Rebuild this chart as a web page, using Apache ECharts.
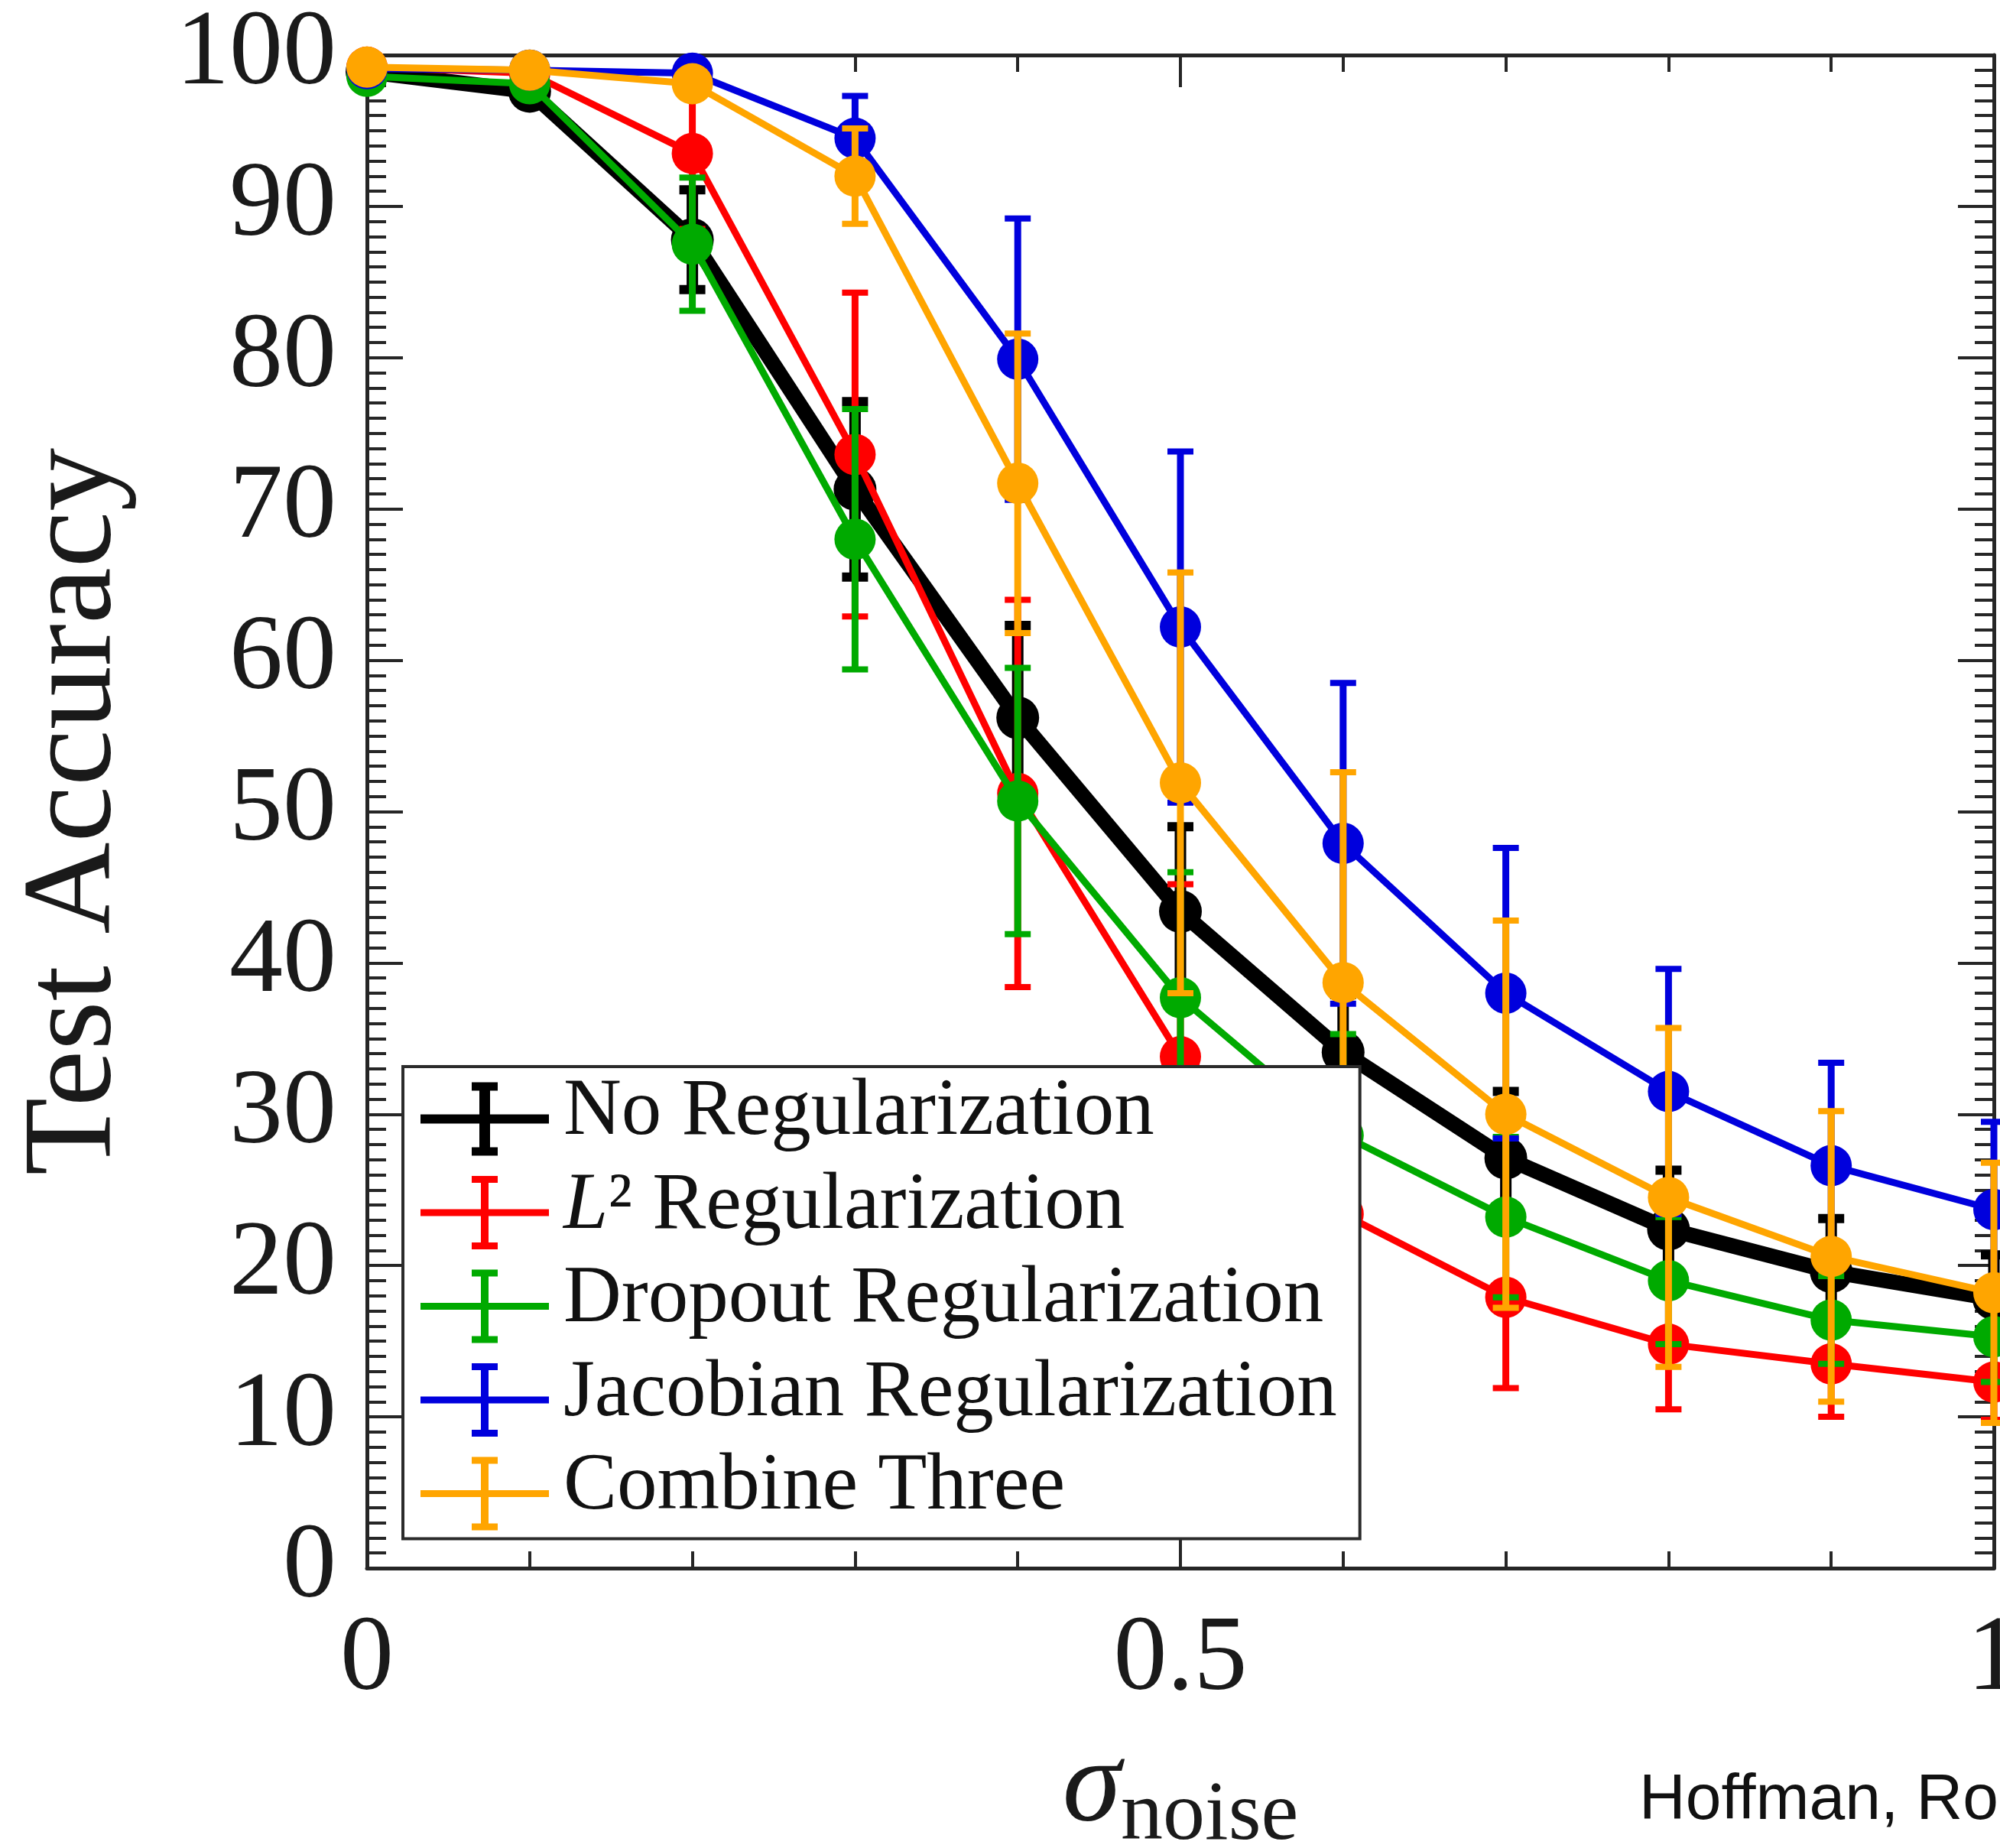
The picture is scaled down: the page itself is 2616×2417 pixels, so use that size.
<!DOCTYPE html>
<html>
<head>
<meta charset="utf-8">
<script src="https://cdn.jsdelivr.net/npm/echarts@6/dist/echarts.min.js"></script>
<style>
  html, body { margin: 0; padding: 0; background: #ffffff; }
  #chart { width: 2616px; height: 2417px; }
</style>
</head>
<body>
<div id="chart"></div>
<script>
// Noise level on the x axis
const sigmaNoise = [0, 0.1, 0.2, 0.3, 0.4, 0.5, 0.6, 0.7, 0.8, 0.9, 1.0];

const seriesNames = [
  'No Regularization',
  'L² Regularization',
  'Dropout Regularization',
  'Jacobian Regularization',
  'Combine Three'
];

// Mean test accuracy (%) and error-bar half widths per method
const noRegMean   = [98.9, 97.6, 87.8, 71.3, 56.2, 43.4, 34.1, 27.1, 22.4, 19.6, 17.8];
const noRegErr    = [0.3, 0.4, 3.3, 5.8, 6.1, 5.6, 3.8, 4.4, 3.9, 3.5, 2.9];

const l2Mean      = [99.2, 98.8, 93.5, 73.6, 51.2, 33.8, 23.4, 17.9, 14.8, 13.5, 12.3];
const l2Err       = [0.3, 0.5, 5.0, 10.7, 12.8, 11.4, 9.0, 6.0, 4.3, 3.5, 2.5];

const dropoutMean = [98.6, 98.1, 87.5, 68.0, 50.7, 37.7, 28.6, 23.2, 19.0, 16.4, 15.3];
const dropoutErr  = [0.4, 0.5, 4.4, 8.6, 8.8, 8.3, 6.7, 5.3, 4.2, 2.9, 3.0];

const jacobianMean = [99.1, 99.0, 98.8, 94.5, 79.9, 62.2, 47.9, 38.0, 31.5, 26.6, 23.7];
const jacobianErr  = [0.2, 0.3, 0.4, 2.8, 9.3, 11.6, 10.6, 9.6, 8.1, 6.8, 5.8];

const combinedMean = [99.2, 99.0, 98.1, 92.0, 71.7, 51.9, 38.7, 30.0, 24.5, 20.6, 18.2];
const combinedErr  = [0.2, 0.3, 0.5, 3.15, 9.9, 13.9, 13.9, 12.8, 11.2, 9.6, 8.6];

// Tick labels
const xTickValues = [0, 0.5, 1];
const xTickLabels = ['0', '0.5', '1'];
const yTickValues = [0, 10, 20, 30, 40, 50, 60, 70, 80, 90, 100];
const yTickLabels = ['0', '10', '20', '30', '40', '50', '60', '70', '80', '90', '100'];

const sourceNote = 'Hoffman, Ro';

// ---- styling ----
const means = [noRegMean, l2Mean, dropoutMean, jacobianMean, combinedMean];
const errs = [noRegErr, l2Err, dropoutErr, jacobianErr, combinedErr];
const colors = ['#000000', '#ff0000', '#00aa00', '#0000dd', '#ffa500'];
const lineWidths = [20, 9, 9, 9, 9];
const barWidths = [15, 9, 9, 9, 9];
const capThick = [12, 8, 8, 8, 8];
const symbolSizes = [56, 54, 54, 54, 54];
const CAP_W = 34;

const axisColor = '#262626';
const textColor = '#1a1a1a';
const serif = '"Liberation Serif", "Times New Roman", serif';

function tickLabel(values, labels) {
  return function (v) {
    for (let i = 0; i < values.length; i++) {
      if (Math.abs(values[i] - v) < 1e-9) return labels[i];
    }
    return '';
  };
}

function errorBarRenderer(barW, capT) {
  return function (params, api) {
    const x = api.value(0);
    const lo = api.coord([x, api.value(1)]);
    const hi = api.coord([x, api.value(2)]);
    const color = api.visual('color');
    return {
      type: 'group',
      children: [
        { type: 'line', shape: { x1: lo[0], y1: lo[1], x2: hi[0], y2: hi[1] },
          style: { stroke: color, lineWidth: barW } },
        { type: 'line', shape: { x1: hi[0] - CAP_W / 2, y1: hi[1], x2: hi[0] + CAP_W / 2, y2: hi[1] },
          style: { stroke: color, lineWidth: capT } },
        { type: 'line', shape: { x1: lo[0] - CAP_W / 2, y1: lo[1], x2: lo[0] + CAP_W / 2, y2: lo[1] },
          style: { stroke: color, lineWidth: capT } }
      ]
    };
  };
}

// Legend glyph: horizontal line crossed by a capped error bar (168 x 96 box)
function errorBarIcon(lineT, barT, capT) {
  const W = 168, H = 96, cx = 84, cw = 34;
  return 'path://' +
    'M0 ' + (H / 2 - lineT / 2) + 'H' + W + 'V' + (H / 2 + lineT / 2) + 'H0Z' +
    'M' + (cx - barT / 2) + ' 0H' + (cx + barT / 2) + 'V' + H + 'H' + (cx - barT / 2) + 'Z' +
    'M' + (cx - cw / 2) + ' 0H' + (cx + cw / 2) + 'V' + capT + 'H' + (cx - cw / 2) + 'Z' +
    'M' + (cx - cw / 2) + ' ' + (H - capT) + 'H' + (cx + cw / 2) + 'V' + H + 'H' + (cx - cw / 2) + 'Z';
}
const legendIcons = [
  errorBarIcon(12, 14, 11),
  errorBarIcon(9, 10, 9),
  errorBarIcon(9, 10, 9),
  errorBarIcon(9, 10, 9),
  errorBarIcon(9, 10, 9)
];

const series = [];
seriesNames.forEach(function (name, i) {
  series.push({
    name: name,
    type: 'custom',
    z: 10 + 2 * i,
    silent: true,
    clip: false,
    itemStyle: { color: colors[i] },
    encode: { x: 0, y: [1, 2] },
    renderItem: errorBarRenderer(barWidths[i], capThick[i]),
    data: sigmaNoise.map(function (x, k) {
      return [x, means[i][k] - errs[i][k], means[i][k] + errs[i][k]];
    })
  });
  series.push({
    name: name,
    type: 'line',
    z: 11 + 2 * i,
    clip: false,
    silent: true,
    symbol: 'circle',
    symbolSize: symbolSizes[i],
    showAllSymbol: true,
    lineStyle: { color: colors[i], width: lineWidths[i] },
    itemStyle: { color: colors[i], borderWidth: 0 },
    emphasis: { disabled: true },
    data: sigmaNoise.map(function (x, k) { return [x, means[i][k]]; })
  });
});

function xAxisBase(position, withLabels) {
  return {
    type: 'value', position: position, min: 0, max: 1, interval: 0.5,
    axisLine: { show: true, onZero: false, lineStyle: { color: axisColor, width: 5 } },
    axisTick: { show: true, inside: true, length: 42, lineStyle: { color: axisColor, width: 4 } },
    minorTick: { show: true, splitNumber: 5, length: 22, lineStyle: { color: axisColor, width: 4 } },
    splitLine: { show: false },
    minorSplitLine: { show: false },
    axisLabel: {
      show: withLabels, margin: 51, fontFamily: serif, fontSize: 140, lineHeight: 140,
      color: textColor, showMinLabel: true, showMaxLabel: true,
      formatter: tickLabel(xTickValues, xTickLabels)
    }
  };
}

function yAxisBase(position, withLabels) {
  return {
    type: 'value', position: position, min: 0, max: 100, interval: 10,
    axisLine: { show: true, onZero: false, lineStyle: { color: axisColor, width: 5 } },
    axisTick: { show: true, inside: true, length: 47, lineStyle: { color: axisColor, width: 4 } },
    minorTick: { show: true, splitNumber: 10, length: 25, lineStyle: { color: axisColor, width: 4 } },
    splitLine: { show: false },
    minorSplitLine: { show: false },
    axisLabel: {
      show: withLabels, margin: 40, fontFamily: serif, fontSize: 140, lineHeight: 140,
      color: textColor, showMinLabel: true, showMaxLabel: true,
      formatter: tickLabel(yTickValues, yTickLabels)
    }
  };
}

const xBottom = xAxisBase('bottom', true);
xBottom.name = '{s|σ}{n|noise}';
xBottom.nameLocation = 'middle';
xBottom.nameGap = 211;
xBottom.nameTextStyle = {
  fontFamily: serif, color: textColor,
  rich: {
    s: { fontFamily: serif, fontStyle: 'italic', fontSize: 155, height: 155, lineHeight: 155, verticalAlign: 'top', color: textColor },
    n: { fontFamily: serif, fontSize: 110, height: 81, lineHeight: 81, verticalAlign: 'bottom', color: textColor }
  }
};

const yLeft = yAxisBase('left', true);
yLeft.name = 'Test Accuracy';
yLeft.nameLocation = 'middle';
yLeft.nameGap = 298;
yLeft.nameTextStyle = { fontFamily: serif, fontSize: 166, lineHeight: 166, color: textColor };

const legendFont = 105;

const option = {
  animation: false,
  backgroundColor: '#ffffff',
  grid: { left: 480, right: 8, top: 72, bottom: 366, containLabel: false, outerBoundsMode: 'none' },
  xAxis: [xBottom, xAxisBase('top', false)],
  yAxis: [yLeft, yAxisBase('right', false)],
  legend: {
    orient: 'vertical', left: 527, top: 1395, z: 100,
    padding: [8, 30, 3, 23], itemGap: 6, itemWidth: 168, itemHeight: 96,
    backgroundColor: '#ffffff', borderColor: '#2b2b2b', borderWidth: 4, borderRadius: 0,
    selectedMode: false,
    itemStyle: { borderWidth: 0 },
    textStyle: {
      fontFamily: serif, fontSize: legendFont, lineHeight: 96, color: '#111111', padding: [0, 0, 16, 14],
      rich: {
        it: { fontFamily: serif, fontStyle: 'italic', fontSize: legendFont, lineHeight: 96, color: '#111111' }
      }
    },
    formatter: function (name) {
      return name === seriesNames[1] ? '{it|L}' + name.slice(1) : name;
    },
    data: seriesNames.map(function (n, i) {
      return { name: n, icon: legendIcons[i], itemStyle: { color: colors[i], borderWidth: 0 } };
    })
  },
  graphic: [{
    type: 'text', x: 2144, y: 2356, z: 100,
    style: { text: sourceNote, font: '84px "Liberation Sans", Arial, sans-serif', fill: '#111111', align: 'left', verticalAlign: 'middle' }
  }],
  series: series
};

const chart = echarts.init(document.getElementById('chart'), null, { renderer: 'canvas' });
chart.setOption(option);
</script>
</body>
</html>
